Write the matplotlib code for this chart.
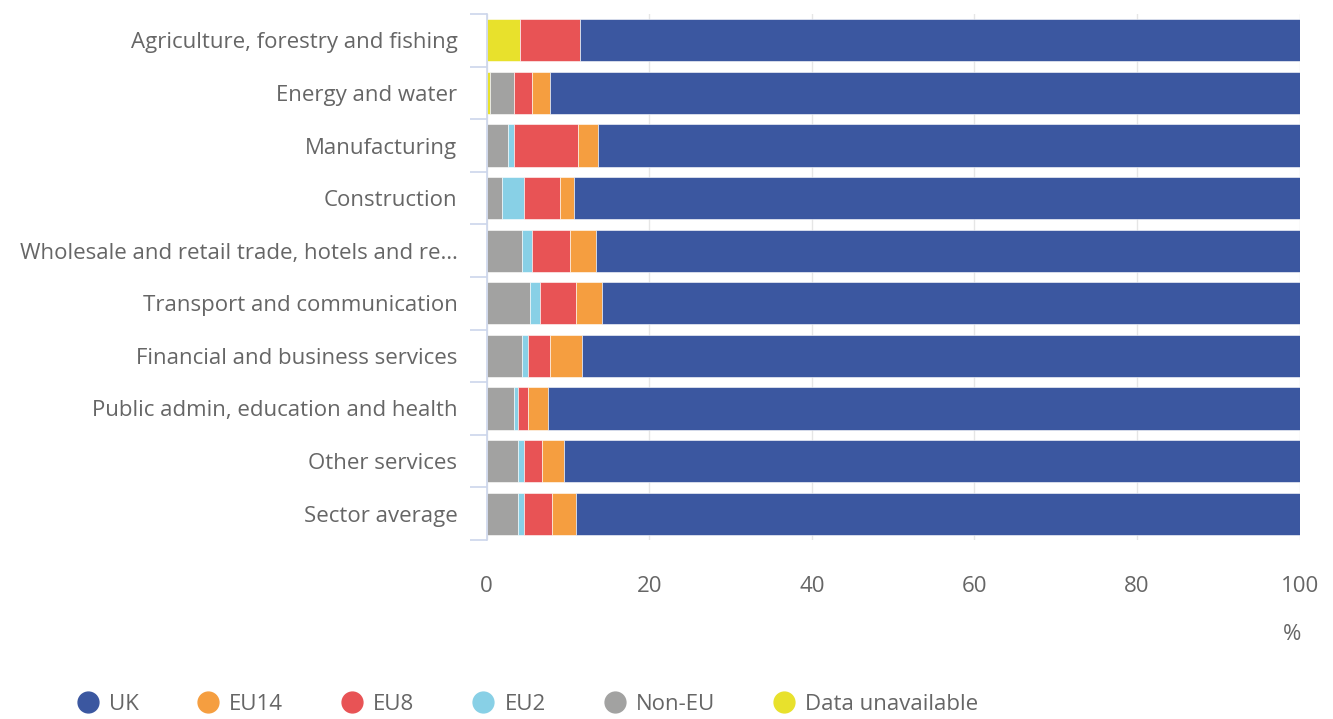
import numpy as np
import matplotlib
matplotlib.use("Agg")
import matplotlib.pyplot as plt
from matplotlib.lines import Line2D

plt.rcParams["font.family"] = ["Open Sans", "DejaVu Sans"]

TEXT_COLOR = "#666666"
AXIS_COLOR = "#ccd6eb"
GRID_COLOR = "#e6e6e6"

sectors = [
    "Agriculture, forestry and fishing",
    "Energy and water",
    "Manufacturing",
    "Construction",
    "Wholesale and retail trade, hotels and re\u2026",
    "Transport and communication",
    "Financial and business services",
    "Public admin, education and health",
    "Other services",
    "Sector average",
]

# share of workers by country of birth, % (stacked left to right)
unavailable = [4.1, 0.4, 0.0, 0.0, 0.0, 0.0, 0.0, 0.0, 0.0, 0.0]
non_eu = [0.0, 3.0, 2.7, 1.9, 4.4, 5.4, 4.4, 3.4, 3.9, 3.9]
eu2 = [0.0, 0.0, 0.7, 2.7, 1.2, 1.2, 0.7, 0.5, 0.7, 0.7]
eu8 = [7.4, 2.2, 7.9, 4.4, 4.7, 4.4, 2.7, 1.2, 2.2, 3.5]
eu14 = [0.0, 2.2, 2.4, 1.7, 3.2, 3.2, 4.0, 2.5, 2.7, 2.9]
uk = [88.5, 92.2, 86.3, 89.3, 86.5, 85.8, 88.2, 92.4, 90.5, 89.0]

series = [
    ("Data unavailable", unavailable, "#e8e12c"),
    ("Non-EU", non_eu, "#a2a2a1"),
    ("EU2", eu2, "#88d0e6"),
    ("EU8", eu8, "#e85355"),
    ("EU14", eu14, "#f59e40"),
    ("UK", uk, "#3b57a0"),
]

fig = plt.figure(figsize=(13.33, 7.19), dpi=100)
ax = fig.add_axes([0.365, 0.249, 0.61, 0.7315])

y = np.arange(len(sectors))
left = np.zeros(len(sectors))
for name, vals, color in series:
    vals = np.array(vals)
    ax.barh(y, vals, left=left, height=0.8, color=color,
            edgecolor="white", linewidth=0.4, zorder=2)
    left += vals

ax.set_xlim(0, 100)
ax.set_ylim(len(sectors) - 0.5, -0.5)

ax.set_xticks([0, 20, 40, 60, 80, 100])
ax.xaxis.grid(True, color=GRID_COLOR, lw=1, zorder=0)
ax.set_axisbelow(True)

ax.set_yticks(y)
ax.set_yticklabels(sectors)
ax.set_yticks(np.arange(-0.5, len(sectors)), minor=True)
ax.tick_params(axis="y", which="major", length=0, pad=21,
               labelsize=16, labelcolor=TEXT_COLOR)
ax.tick_params(axis="y", which="minor", length=12.5, width=1.2, color=AXIS_COLOR)
ax.tick_params(axis="x", length=0, pad=26, labelsize=16, labelcolor=TEXT_COLOR)

for side in ["top", "right", "bottom"]:
    ax.spines[side].set_visible(False)
ax.spines["left"].set_color(AXIS_COLOR)
ax.spines["left"].set_linewidth(1.2)

fig.text(0.969, 0.117, "%", ha="center", va="center",
         fontsize=16, color=TEXT_COLOR)

# legend: UK first, then the rest in reverse stacking order
handles = [
    Line2D([], [], marker="o", linestyle="none", markersize=15,
           markerfacecolor=color, markeredgecolor=color, label=name)
    for name, vals, color in reversed(series)
]
fig.legend(handles=handles, loc="center", bbox_to_anchor=(0.395, 0.02),
           ncol=6, frameon=False, fontsize=16, labelcolor=TEXT_COLOR,
           handletextpad=0.35, columnspacing=2.5, handlelength=1.2)

fig.savefig("out.png", dpi=100)
